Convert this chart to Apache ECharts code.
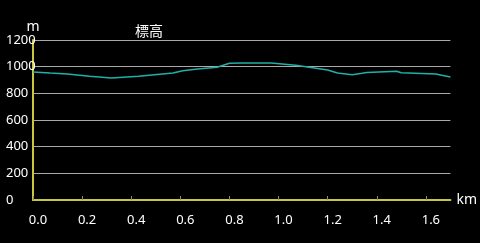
<!DOCTYPE html>
<html><head><meta charset="utf-8">
<script src="https://cdn.jsdelivr.net/npm/echarts@6/dist/echarts.min.js"></script>
<style>html,body{margin:0;padding:0;background:#000}#c{width:480px;height:243px}</style>
</head><body><div id="c"></div>
<script>
var distanceKm = [0.00,0.07,0.14,0.23,0.32,0.43,0.57,0.61,0.67,0.75,0.80,0.85,0.97,1.07,1.20,1.24,1.30,1.34,1.36,1.48,1.50,1.64,1.70];
var elevationM = [960,952,945,928,915,928,952,970,982,995,1025,1028,1027,1010,975,952,940,950,957,965,955,945,922];
var titleText = '標高';
var xName = 'km';
var yName = 'm';

var pts = distanceKm.map(function(d,i){return [d, elevationM[i]];});
var chart = echarts.init(document.getElementById('c'), null, {renderer:'canvas'});
var font = '"Noto Sans", "Noto Sans CJK JP", sans-serif';
chart.setOption({
  backgroundColor:'#000',
  animation:false,
  title:{text:titleText,left:130,top:20,textStyle:{color:'#fff',fontSize:14,fontWeight:'normal',fontFamily:font}},
  grid:{left:33,top:40,right:24,bottom:43},
  xAxis:{type:'value',min:0,max:1.7,interval:0.2,name:xName,nameLocation:'end',nameGap:6,
    nameTextStyle:{color:'#fff',fontSize:14,fontFamily:font},
    axisLine:{lineStyle:{color:'#c8c83c',width:2}},
    axisTick:{show:true,inside:true,length:4,lineStyle:{color:'#888'}},
    splitLine:{show:false},
    axisLabel:{color:'#fff',fontSize:13,fontFamily:font,margin:14,showMaxLabel:false,padding:[0,0,0,10],
      formatter:function(v){return v.toFixed(1);}}},
  yAxis:{type:'value',min:0,max:1200,interval:200,name:yName,nameLocation:'end',nameGap:0,
    nameTextStyle:{color:'#fff',fontSize:14,fontFamily:font,align:'center'},
    axisLine:{show:true,lineStyle:{color:'#c8c83c',width:2}},
    axisTick:{show:false},
    splitLine:{lineStyle:{color:'#aaa',width:1}},
    axisLabel:{color:'#fff',fontSize:13,fontFamily:font,margin:27,align:'left',
      formatter:function(v){return String(v);}}},
  series:[{type:'line',data:pts,showSymbol:false,smooth:false,lineStyle:{color:'#20b0a8',width:1.5},z:3}]
});
</script></body></html>
